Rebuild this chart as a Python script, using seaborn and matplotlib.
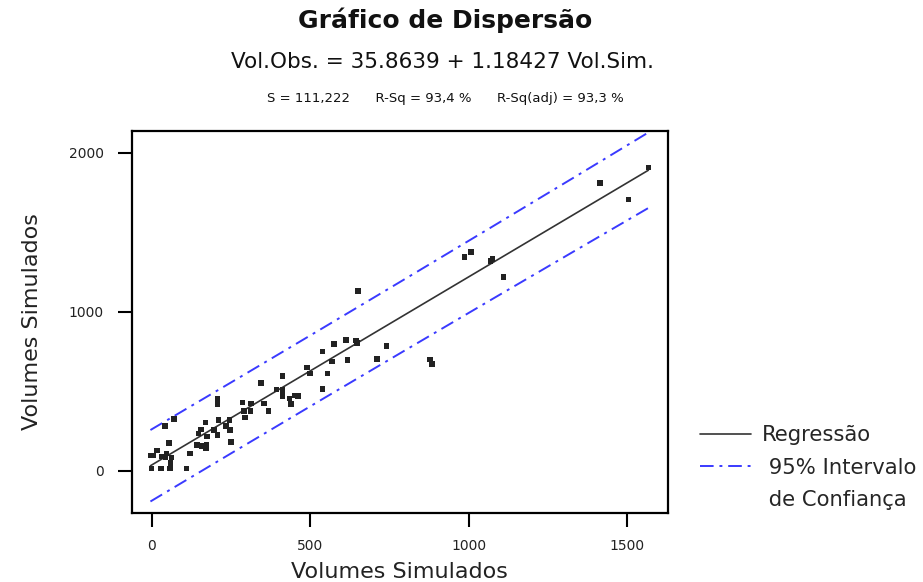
import numpy as np
import pandas as pd
import seaborn as sns
import matplotlib.pyplot as plt
from matplotlib.lines import Line2D

# regression reported on the chart
INTERCEPT = 35.8639
SLOPE = 1.18427
S_RES = 111.222
T95 = 1.99

# points
vol_sim = [42, 71, 55, -4, 5, 16, 33, 47, 44, 63,
           60, 0, 29, 58, 110, 121, 142, 158, 171, 173,
           147, 156, 170, 175, 197, 207, 210, 207, 208, 234,
           245, 247, 250, 287, 294, 291, 312, 313, 344, 354,
           368, 394, 413, 413, 413, 434, 439, 452, 462, 489,
           499, 538, 539, 555, 568, 574, 613, 617, 644, 647,
           650, 711, 741, 878, 884, 986, 1007, 1069, 1075, 1109,
           1414, 1503, 1566]
vol_obs = [281, 327, 176, 97, 97, 126, 88, 109, 84, 84,
           50, 15, 13, 15, 15, 109, 162, 155, 141, 162,
           235, 260, 302, 214, 256, 225, 319, 453, 418, 281,
           319, 256, 182, 428, 336, 377, 377, 424, 553, 424,
           377, 512, 508, 470, 597, 453, 419, 474, 470, 650,
           613, 514, 751, 613, 688, 797, 822, 696, 818, 805,
           1132, 704, 784, 701, 671, 1346, 1377, 1321, 1333, 1220,
           1811, 1707, 1908]

x_ticks = [0, 500, 1000, 1500]
y_ticks = [0, 1000, 2000]

sns.set_theme(style="white")
plt.rcParams['font.family'] = ['DejaVu Sans']

df = pd.DataFrame({"sim": vol_sim, "obs": vol_obs})

fig = plt.figure(figsize=(9.23, 5.82), dpi=100)
ax = fig.add_axes([0.1427, 0.1186, 0.581, 0.657])

reg_color = "#333333"
band_color = "#3a3aff"
band_style = (0, (7, 3, 1.5, 3))

# fitted line and 95% prediction band
xs = np.linspace(df["sim"].min(), df["sim"].max(), 200)
fit = INTERCEPT + SLOPE * xs
n = len(df)
xbar = df["sim"].mean()
sxx = ((df["sim"] - xbar) ** 2).sum()
half = T95 * S_RES * np.sqrt(1 + 1 / n + (xs - xbar) ** 2 / sxx)

sns.lineplot(x=xs, y=fit, color=reg_color, lw=1.2, ax=ax)
sns.lineplot(x=xs, y=fit + half, color=band_color, lw=1.4, linestyle=band_style, ax=ax)
sns.lineplot(x=xs, y=fit - half, color=band_color, lw=1.4, linestyle=band_style, ax=ax)
sns.scatterplot(data=df, x="sim", y="obs", marker="s", s=16, color="#222222",
                edgecolor="none", ax=ax, zorder=3)

ax.set_xlim(-63, 1628)
ax.set_ylim(-266, 2140)
ax.set_xticks(x_ticks)
ax.set_yticks(y_ticks)
ax.tick_params(bottom=True, left=True, direction="out", length=10, width=1.5,
               color="black", labelsize=10, labelcolor="#222222")
ax.tick_params(axis="y", pad=10)
ax.tick_params(axis="x", pad=9)
for sp in ax.spines.values():
    sp.set_color("black")
    sp.set_linewidth(1.6)

ax.set_xlabel("Volumes Simulados", fontsize=16, color="#222222")
ax.set_ylabel("Volumes Simulados", fontsize=16, color="#222222")
ax.xaxis.set_label_coords(0.5, -0.127)
ax.yaxis.set_label_coords(-0.167, 0.5)

fig.text(0.482, 0.9656, "Gráfico de Dispersão", ha="center", va="center",
         fontsize=18, fontweight="bold", color="#111111")
fig.text(0.479, 0.8935, "Vol.Obs. = 35.8639 + 1.18427 Vol.Sim.", ha="center", va="center",
         fontsize=15.5, color="#111111")
fig.text(0.482, 0.8316, "S = 111,222      R-Sq = 93,4 %      R-Sq(adj) = 93,3 %",
         ha="center", va="center", fontsize=9.5, color="#111111")

handles = [Line2D([0], [0], color=reg_color, lw=1.2),
           Line2D([0], [0], color=band_color, lw=1.4, linestyle=band_style),
           Line2D([], [], color="none")]
labels = ["Regressão", " 95% Intervalo", " de Confiança"]
ax.legend(handles, labels, loc="upper left", bbox_to_anchor=(700 / 923, 1 - 425 / 582),
          bbox_transform=fig.transFigure, frameon=False, fontsize=15.2,
          handlelength=2.4, handletextpad=0.55, labelspacing=0.6,
          borderpad=0, borderaxespad=0)

fig.savefig("out.png", dpi=100)
